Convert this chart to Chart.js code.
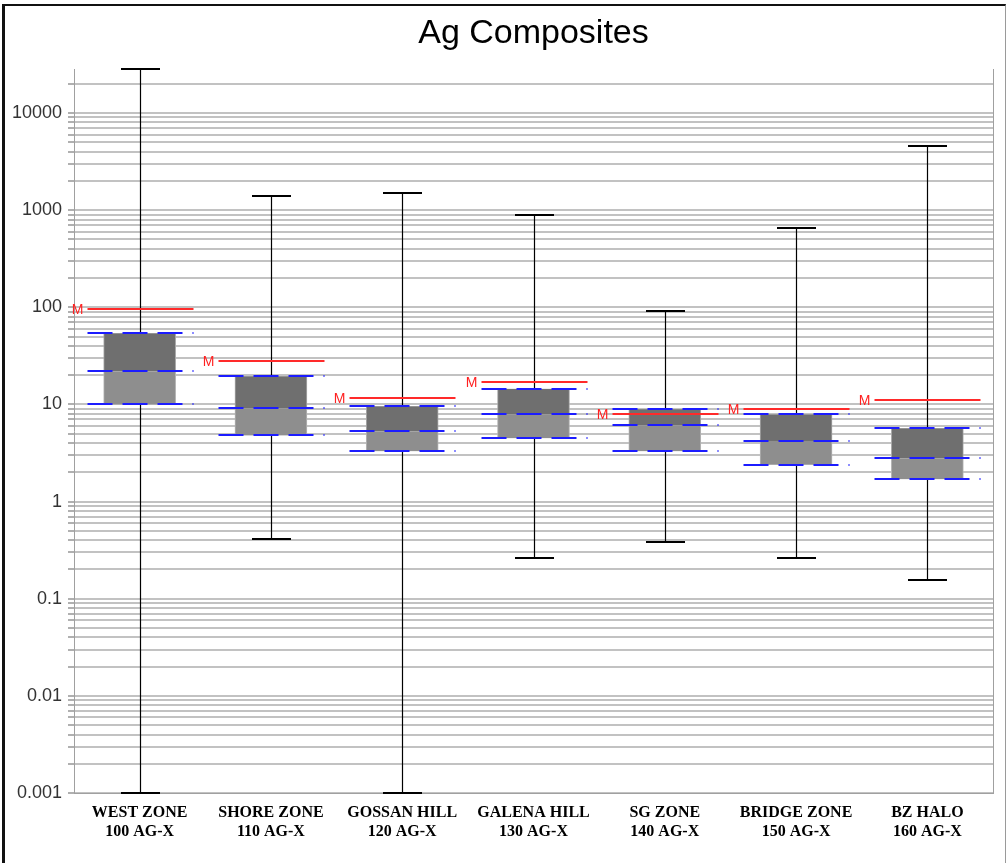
<!DOCTYPE html>
<html>
<head>
<meta charset="utf-8">
<title>Ag Composites</title>
<script src="https://cdn.jsdelivr.net/npm/chart.js@4/dist/chart.umd.min.js"></script>
<style>
  html, body { margin: 0; padding: 0; background: #fff; }
  #wrap { position: relative; width: 1008px; height: 863px; overflow: hidden; }
  #frame { position: absolute; left: 2px; top: 4px; width: 1000px; height: 880px;
           border-left: 3px solid #111; border-top: 2px solid #111; border-right: 1px solid #9a9a9a; }
  canvas { position: absolute; left: 0; top: 0; }
</style>
</head>
<body>
<div id="wrap">
  <div id="frame"></div>
  <canvas id="chart" width="1008" height="863"></canvas>
</div>
<script>
// Composite groups (two-line axis labels)
const categories = [
  ['WEST ZONE', '100 AG-X'],
  ['SHORE ZONE', '110 AG-X'],
  ['GOSSAN HILL', '120 AG-X'],
  ['GALENA HILL', '130 AG-X'],
  ['SG ZONE', '140 AG-X'],
  ['BRIDGE ZONE', '150 AG-X'],
  ['BZ HALO', '160 AG-X']
];

// Ag statistics per group (g/t)
const maxVals  = [28400, 1400, 1500, 890, 91, 650, 4550];
const q3Vals   = [54, 19.5, 9.6, 14.5, 8.9, 7.9, 5.7];
const medVals  = [22, 9.1, 5.3, 7.9, 6.1, 4.2, 2.8];
const q1Vals   = [10, 4.8, 3.3, 4.5, 3.3, 2.4, 1.7];
const minVals  = [0.001, 0.41, 0.001, 0.26, 0.38, 0.26, 0.157];
const meanVals = [97, 28, 11.6, 17.1, 7.9, 8.9, 11.2];

// Labelled decades on the log axis
const yDecades = [0.001, 0.01, 0.1, 1, 10, 100, 1000, 10000];
const yLabels  = ['0.001', '0.01', '0.1', '1', '10', '100', '1000', '10000'];
const yMin = 0.001;
const yMax = 28400;

// Gridlines at every 1..9 multiple of each decade
function logGrid(min, max) {
  const out = [];
  for (let k = Math.floor(Math.log10(min)); k <= Math.ceil(Math.log10(max)); k++) {
    for (let m = 1; m <= 9; m++) {
      const v = parseFloat((m * Math.pow(10, k)).toPrecision(12));
      if (v >= min && v <= max) out.push(v);
    }
  }
  return out;
}

const BOX_W = 72, LINE_W = 106, CAP_W = 39;

const boxOverlay = {
  id: 'boxOverlay',
  beforeDatasetsDraw(chart) {
    const { ctx, chartArea, scales: { x, y } } = chart;
    ctx.save();
    // right edge of the plot frame
    ctx.strokeStyle = '#a0a0a0';
    ctx.lineWidth = 1;
    const rx = Math.round(chartArea.right) + 0.5;
    ctx.beginPath();
    ctx.moveTo(rx, chartArea.top);
    ctx.lineTo(rx, chartArea.bottom);
    ctx.stroke();
    // whisker stems (behind the boxes)
    ctx.strokeStyle = '#000';
    ctx.lineWidth = 1.2;
    categories.forEach((c, i) => {
      const cx = Math.round(x.getPixelForValue(i)) + 0.5;
      ctx.beginPath();
      ctx.moveTo(cx, y.getPixelForValue(maxVals[i]));
      ctx.lineTo(cx, y.getPixelForValue(minVals[i]));
      ctx.stroke();
    });
    ctx.restore();
  },
  afterDatasetsDraw(chart) {
    const { ctx, scales: { x, y } } = chart;
    ctx.save();
    categories.forEach((c, i) => {
      const cx = Math.round(x.getPixelForValue(i)) + 0.5;

      // whisker caps
      ctx.strokeStyle = '#000';
      ctx.lineWidth = 2;
      ctx.setLineDash([]);
      [maxVals[i], minVals[i]].forEach(v => {
        const py = Math.round(y.getPixelForValue(v));
        ctx.beginPath();
        ctx.moveTo(cx - CAP_W / 2, py);
        ctx.lineTo(cx + CAP_W / 2, py);
        ctx.stroke();
      });

      // quartile and median markers
      ctx.strokeStyle = '#1c1cff';
      ctx.lineWidth = 2;
      ctx.setLineDash([25, 10]);
      [q3Vals[i], medVals[i], q1Vals[i]].forEach(v => {
        const py = Math.round(y.getPixelForValue(v));
        ctx.beginPath();
        ctx.moveTo(cx - LINE_W / 2, py);
        ctx.lineTo(cx + LINE_W / 2, py);
        ctx.stroke();
      });

      // mean marker
      ctx.setLineDash([]);
      ctx.strokeStyle = '#ff2a2a';
      ctx.lineWidth = 2;
      const my = Math.round(y.getPixelForValue(meanVals[i]));
      ctx.beginPath();
      ctx.moveTo(cx - LINE_W / 2, my);
      ctx.lineTo(cx + LINE_W / 2, my);
      ctx.stroke();
      ctx.fillStyle = '#ff2020';
      ctx.font = '14px "Liberation Sans", Arial, sans-serif';
      ctx.textAlign = 'right';
      ctx.textBaseline = 'middle';
      ctx.fillText('M', cx - LINE_W / 2 - 4, my + 1);
    });
    ctx.restore();
  }
};

new Chart(document.getElementById('chart'), {
  type: 'bar',
  data: {
    labels: categories,
    datasets: [
      {
        label: 'Q1 to median',
        data: categories.map((c, i) => [q1Vals[i], medVals[i]]),
        backgroundColor: '#8e8e8e',
        borderColor: '#b4b4b4',
        borderWidth: { left: 1, right: 1, top: 0, bottom: 0 },
        borderSkipped: false,
        barThickness: BOX_W,
        grouped: false
      },
      {
        label: 'Median to Q3',
        data: categories.map((c, i) => [medVals[i], q3Vals[i]]),
        backgroundColor: '#6f6f6f',
        borderColor: '#a8a8a8',
        borderWidth: { left: 1, right: 1, top: 0, bottom: 0 },
        borderSkipped: false,
        barThickness: BOX_W,
        grouped: false
      }
    ]
  },
  options: {
    responsive: false,
    animation: false,
    devicePixelRatio: 1,
    layout: { padding: { left: 0, right: 15, top: 0, bottom: 0 } },
    plugins: {
      legend: { display: false },
      tooltip: { enabled: false },
      title: {
        display: true,
        text: 'Ag Composites',
        fullSize: false,
        color: '#000',
        font: { family: '"Liberation Sans", Arial, sans-serif', size: 34, weight: 'normal', lineHeight: 1 },
        padding: { top: 17, bottom: 18 }
      }
    },
    scales: {
      x: {
        type: 'category',
        offset: true,
        grid: { display: false, drawTicks: false },
        border: { display: true, color: '#a0a0a0', width: 1 },
        ticks: {
          color: '#000',
          font: { family: '"Liberation Serif", "Times New Roman", serif', size: 16, weight: 'bold', lineHeight: 1.15 },
          padding: 11,
          maxRotation: 0,
          minRotation: 0,
          autoSkip: false
        },
        afterFit(s) { s.height = 70; }
      },
      y: {
        type: 'logarithmic',
        min: yMin,
        max: yMax,
        afterBuildTicks(s) {
          s.ticks = logGrid(yMin, yMax).map(v => ({ value: v }));
        },
        grid: { color: '#c2c2c2', lineWidth: 2, tickLength: 6, tickColor: '#b0b0b0' },
        border: { display: true, color: '#a0a0a0', width: 1 },
        ticks: {
          autoSkip: false,
          color: '#333',
          padding: 6,
          font: { family: '"Liberation Sans", Arial, sans-serif', size: 18 },
          callback(v) {
            const idx = yDecades.findIndex(d => Math.abs(Math.log10(d) - Math.log10(v)) < 1e-9);
            return idx >= 0 ? yLabels[idx] : '';
          }
        },
        afterFit(s) { s.width = 74; }
      }
    }
  },
  plugins: [boxOverlay]
});
</script>
</body>
</html>
